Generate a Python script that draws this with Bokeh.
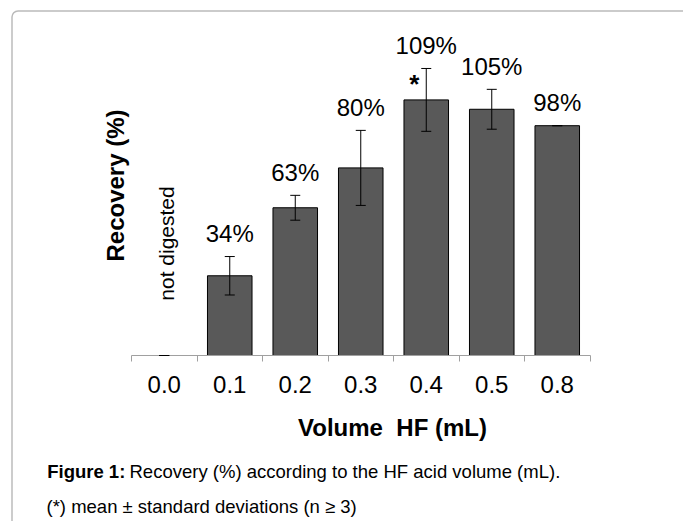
import math
from bokeh.plotting import figure
from bokeh.models import (Range1d, FixedTicker, Whisker, TeeHead, ColumnDataSource,
                          Label, BoxAnnotation)
from bokeh.core.properties import value
from bokeh.embed import file_html
from bokeh.resources import INLINE

# ---------------- data ----------------
categories = ["0.0", "0.1", "0.2", "0.3", "0.4", "0.5", "0.8"]
recovery = [0, 34, 63, 80, 109, 105, 98]
std_dev = [0, 8.2, 5.3, 16.0, 13.4, 8.5, 0]
bar_labels = ["" if v == 0 else f"{v}%" for v in recovery]

x_title = "Volume\u00a0 HF (mL)"
y_title = "Recovery (%)"
zero_note = "not digested"
caption_bold = "Figure 1:"
caption_text = "Recovery (%) according to the HF acid volume (mL)."
caption_note = "(*) mean \u00b1 standard deviations (n \u2265 3)"

# ---------------- layout ----------------
FONT = "Liberation Sans"
W, H = 683, 521
AX_LEFT = 131.0      # px of the first category boundary
CAT_PX = 65.5        # px per category
BASE_Y = 355.0       # px of the value axis zero (from top)
PX_PER_PCT = 2.345

n = len(categories)
idx = list(range(n))
x0 = -0.5 - AX_LEFT / CAT_PX
x1 = x0 + W / CAT_PX
y0 = -(H - BASE_Y) / PX_PER_PCT
y1 = BASE_Y / PX_PER_PCT

src = ColumnDataSource(dict(
    x=idx,
    top=recovery,
    upper=[v + e for v, e in zip(recovery, std_dev)],
    lower=[v - e for v, e in zip(recovery, std_dev)],
    label=bar_labels,
))

p = figure(width=W, height=H, output_backend="svg", toolbar_location=None, tools="",
           x_range=Range1d(x0, x1), y_range=Range1d(y0, y1),
           y_axis_location=None, min_border=0)
p.outline_line_color = None
p.xgrid.visible = False
p.ygrid.visible = False
p.background_fill_color = "white"
p.border_fill_color = "white"

ax = p.xaxis[0]
ax.fixed_location = 0
ax.bounds = (-0.5, n - 0.5)
ax.ticker = FixedTicker(ticks=idx, minor_ticks=[i - 0.5 for i in range(n + 1)])
ax.major_label_overrides = {i: c for i, c in zip(idx, categories)}
ax.major_tick_in = 0
ax.major_tick_out = 0
ax.minor_tick_in = 0
ax.minor_tick_out = 6
ax.minor_tick_line_color = "#a0a0a0"
ax.axis_line_color = "#a0a0a0"
ax.major_label_text_font = FONT
ax.major_label_text_font_size = "24px"
ax.major_label_text_color = "black"
ax.major_label_standoff = 14

p.vbar(x="x", top="top", width=0.68, bottom=0, source=src,
       fill_color="#595959", line_color="black", line_width=1)

wh = Whisker(base="x", upper="upper", lower="lower", source=src,
             line_color="black", line_width=1, level="overlay",
             upper_head=TeeHead(size=10, line_color="black", line_width=1),
             lower_head=TeeHead(size=10, line_color="black", line_width=1))
p.add_layout(wh)

p.text(x="x", y="upper", text="label", source=src, text_font=value(FONT),
       text_font_size="24px", text_align="center", text_baseline="middle",
       text_color="black", y_offset=-23)

# asterisk next to the 0.4 bar
p.text(x=[idx[4]], y=[recovery[4]], text=["*"], x_offset=-12, y_offset=-16,
       text_font=value(FONT), text_font_size="26px", text_font_style="bold",
       text_align="center", text_baseline="alphabetic", text_color="black")

# texts placed in screen units (frame == whole canvas, y measured from bottom)
def screen_label(x, y_from_top, text, size, bold=False, angle=0.0, align="left"):
    p.add_layout(Label(x=x, y=H - y_from_top, x_units="screen", y_units="screen",
                       text=text, angle=angle, text_font=FONT, text_font_size=size,
                       text_font_style="bold" if bold else "normal",
                       text_align=align, text_baseline="middle", text_color="black"))

screen_label(114.7, 185, y_title, "24px", bold=True, angle=math.pi / 2, align="center")
screen_label(166.2, 243, zero_note, "21px", angle=math.pi / 2, align="center")
screen_label(392, 426.7, x_title, "24px", bold=True, align="center")
screen_label(46.7, 471.3, caption_bold, "18.5px", bold=True)
screen_label(129, 471.3, caption_text, "18.5px")
screen_label(46, 505.5, caption_note, "18.5px")

# page frame with rounded top-left corner
p.add_layout(BoxAnnotation(left=11.5, right=W + 40, top=H - 10.5, bottom=-40,
                           left_units="screen", right_units="screen",
                           top_units="screen", bottom_units="screen",
                           fill_alpha=0, line_color="#1a1a1a", line_width=1.5,
                           border_radius=6, level="overlay"))

open("out.html", "w").write(file_html(p, INLINE))
